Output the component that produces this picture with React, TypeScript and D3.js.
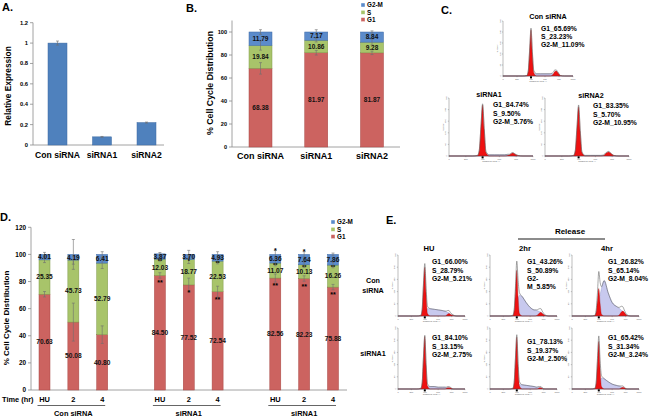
import * as d3 from "d3";

const FONT = "'Liberation Sans', Arial, Helvetica, sans-serif";

// ---------- A: relative expression ----------
const A_CATS = ["Con siRNA", "siRNA1", "siRNA2"];
const A_VALUES = [1.0, 0.08, 0.22];
const A_ERRORS = [0.02, 0.004, 0.005];
const A_TICKS = [0, 0.2, 0.4, 0.6, 0.8, 1, 1.2];

// ---------- B: cell cycle distribution ----------
const LEGEND = ["G2-M", "S", "G1"];
const B_CATS = ["Con siRNA", "siRNA1", "siRNA2"];
const B_G1 = [68.38, 81.97, 81.87];
const B_S = [19.84, 10.86, 9.28];
const B_G2M = [11.79, 7.17, 8.84];
const B_ERR_G1 = [5, 2, 1.5];
const B_ERR_S = [4, 1.5, 2.5];
const B_ERR_TOP = [2, 2, 1];
const B_TICKS = [0, 20, 40, 60, 80, 100];

// ---------- D: HU release time course ----------
const D_TIMES = ["HU", "2", "4", "HU", "2", "4", "HU", "2", "4"];
const D_GROUPS = ["Con siRNA", "siRNA1", "siRNA1"];
const D_G1 = [70.63, 50.08, 40.8, 84.5, 77.52, 72.54, 82.56, 82.23, 75.88];
const D_S = [25.35, 45.73, 52.79, 12.03, 18.77, 22.53, 11.07, 10.13, 16.26];
const D_G2M = [4.01, 4.19, 6.41, 3.87, 3.7, 4.93, 6.36, 7.64, 7.86];
const D_ERR_G1 = [2, 14, 6.5, 2, 5, 4, 3, 2, 2];
const D_ERR_S = [2, 3, 4, 1.5, 3, 2, 2, 2, 2];
const D_ERR_TOP = [1.5, 11, 2, 1, 3, 2, 3, 2, 1];
const D_SIG_G1 = ["", "", "", "**", "*", "**", "**", "**", "**"];
const D_SIG_S = ["", "", "", "**", "*", "**", "**", "**", "**"];
const D_SIG_TOP = ["", "", "", "", "", "", "*", "*", ""];
const D_TICKS = [0, 20, 40, 60, 80, 100, 120];

// ---------- flow histograms (C and E) ----------
const CHANNELS = [0, 40, 70, 85, 90, 95, 100, 105, 110, 120, 135, 150, 165, 175, 180, 185, 190, 195, 205, 220, 250];

const C_CON_RED = [0, 0, 0, 1, 8, 45, 84, 40, 6, 0, 0, 0, 0, 1, 4, 8, 9, 7, 1, 0, 0];
const C_CON_S = [0, 0, 0, 0, 1, 2, 3, 4, 4, 4, 4, 4, 4, 4, 3, 3, 2, 1, 0, 0, 0];
const C_SI1_RED = [0, 0, 0, 1, 9, 50, 88, 45, 6, 0, 0, 0, 0, 1, 2, 4, 5, 4, 1, 0, 0];
const C_SI1_S = [0, 0, 0, 0, 1, 1, 2, 2, 2, 2, 2, 2, 2, 2, 1, 1, 1, 0, 0, 0, 0];
const C_SI2_RED = [0, 0, 0, 1, 9, 48, 85, 42, 6, 0, 0, 0, 0, 1, 4, 6, 7, 5, 1, 0, 0];
const C_SI2_S = [0, 0, 0, 0, 0, 1, 3, 2, 1, 1, 1, 1, 1, 1, 1, 1, 1, 0, 0, 0, 0];

const E_HU_CON_RED = [0, 0, 0, 1, 10, 50, 80, 35, 4, 0, 0, 0, 0, 0, 1, 3, 4, 3, 1, 0, 0];
const E_HU_CON_S = [0, 0, 0, 0, 1, 3, 6, 10, 12, 12, 11, 10, 9, 8, 7, 6, 5, 3, 1, 0, 0];
const E_HU_SI_RED = [0, 0, 0, 1, 10, 52, 86, 38, 5, 0, 0, 0, 0, 0, 1, 2, 2, 2, 0, 0, 0];
const E_HU_SI_S = [0, 0, 0, 0, 0, 1, 2, 3, 4, 4, 4, 3, 3, 3, 2, 2, 2, 1, 0, 0, 0];
const E_2H_CON_RED = [0, 0, 0, 1, 8, 40, 75, 30, 4, 0, 0, 0, 0, 1, 3, 5, 6, 4, 1, 0, 0];
const E_2H_CON_S = [0, 0, 0, 0, 2, 8, 15, 28, 34, 32, 22, 14, 10, 9, 8, 7, 6, 4, 1, 0, 0];
const E_4H_CON_RED = [0, 0, 0, 1, 6, 26, 45, 20, 3, 0, 0, 0, 0, 1, 4, 7, 8, 6, 1, 0, 0];
const E_4H_CON_S = [0, 0, 0, 0, 3, 12, 28, 35, 45, 58, 38, 22, 16, 13, 11, 9, 7, 4, 1, 0, 0];
const E_2H_SI_RED = [0, 0, 0, 1, 10, 50, 85, 36, 5, 0, 0, 0, 0, 0, 1, 2, 2, 1, 0, 0, 0];
const E_2H_SI_S = [0, 0, 0, 0, 1, 2, 4, 6, 7, 7, 6, 5, 4, 3, 3, 2, 2, 1, 0, 0, 0];
const E_4H_SI_RED = [0, 0, 0, 1, 9, 45, 78, 32, 4, 0, 0, 0, 0, 0, 1, 2, 3, 2, 0, 0, 0];
const E_4H_SI_S = [0, 0, 0, 0, 2, 5, 9, 14, 18, 17, 12, 8, 6, 5, 4, 3, 2, 1, 0, 0, 0];

const C_TITLES = ["Con siRNA", "siRNA1", "siRNA2"];
const C_TEXTS = [
  ["G1_65.69%", "S_23.23%", "G2-M_11.09%"],
  ["G1_84.74%", "S_9.50%", "G2-M_5.76%"],
  ["G1_83.35%", "S_5.70%", "G2-M_10.95%"],
];
const E_COLS = ["HU", "2hr", "4hr"];
const E_TEXTS = [
  ["G1_66.00%", "S_28.79%", "G2-M_5.21%"],
  ["G1_43.26%", "S_50.89%", "G2-", "M_5.85%"],
  ["G1_26.82%", "S_65.14%", "G2-M_8.04%"],
  ["G1_84.10%", "S_13.15%", "G2-M_2.75%"],
  ["G1_78.13%", "S_19.37%", "G2-M_2.50%"],
  ["G1_65.42%", "S_31.34%", "G2-M_3.24%"],
];

const COL = {
  G1: "#cc6360",
  G1s: "#a84744",
  S: "#a8c46a",
  Ss: "#7f9a48",
  G2: "#5b8bcb",
  G2s: "#3f6aa5",
  axis: "#8c8c8c",
  err: "#6e6e6e",
};
const LEGEND_COL = [COL.G2, COL.S, COL.G1];

type Scale = d3.ScaleLinear<number, number>;

function YAxis({ x, y, ticks, fs }: { x: number; y: Scale; ticks: number[]; fs: number }) {
  const [lo, hi] = y.domain();
  return (
    <g>
      <line x1={x} x2={x} y1={y(lo)} y2={y(hi)} stroke={COL.axis} strokeWidth={0.8} />
      {ticks.map((t) => (
        <g key={t}>
          <line x1={x - 3} x2={x} y1={y(t)} y2={y(t)} stroke={COL.axis} strokeWidth={0.8} />
          <text x={x - 5} y={y(t)} dy="0.35em" textAnchor="end" fontSize={fs} fontWeight="bold">
            {String(t)}
          </text>
        </g>
      ))}
    </g>
  );
}

function ErrBar({ cx, y, v, e, cap }: { cx: number; y: Scale; v: number; e: number; cap: number }) {
  return (
    <g stroke={COL.err} strokeWidth={0.6}>
      <line x1={cx} x2={cx} y1={y(v - e)} y2={y(v + e)} />
      <line x1={cx - cap / 2} x2={cx + cap / 2} y1={y(v - e)} y2={y(v - e)} />
      <line x1={cx - cap / 2} x2={cx + cap / 2} y1={y(v + e)} y2={y(v + e)} />
    </g>
  );
}

function StackBar({
  cx, bw, y, g1, s, g2, eG1, eS, eTop, fs, cap,
}: {
  cx: number; bw: number; y: Scale; g1: number; s: number; g2: number;
  eG1: number; eS: number; eTop: number; fs: number; cap: number;
}) {
  const segs = [
    { lo: 0, hi: g1, fill: COL.G1, stroke: COL.G1s, label: g1 },
    { lo: g1, hi: g1 + s, fill: COL.S, stroke: COL.Ss, label: s },
    { lo: g1 + s, hi: g1 + s + g2, fill: COL.G2, stroke: COL.G2s, label: g2 },
  ];
  return (
    <g>
      {segs.map((sg, i) => (
        <rect key={i} x={cx - bw / 2} width={bw} y={y(sg.hi)} height={y(sg.lo) - y(sg.hi)}
          fill={sg.fill} stroke={sg.stroke} strokeWidth={0.5} />
      ))}
      <ErrBar cx={cx} y={y} v={g1} e={eG1} cap={cap} />
      <ErrBar cx={cx} y={y} v={g1 + s} e={eS} cap={cap} />
      <ErrBar cx={cx} y={y} v={g1 + s + g2} e={eTop} cap={cap} />
      {segs.map((sg, i) => (
        <text key={i} x={cx} y={y((sg.lo + sg.hi) / 2)} dy="0.35em" textAnchor="middle"
          fontSize={fs} fontWeight="bold" fill="#111">
          {sg.label.toFixed(2)}
        </text>
      ))}
    </g>
  );
}

function Legend({ x, y, fs }: { x: number; y: number; fs: number }) {
  return (
    <g>
      {LEGEND.map((l, i) => (
        <g key={l}>
          <rect x={x} y={y + i * 7.3 - 2} width={4} height={4} fill={LEGEND_COL[i]} stroke="#fff" strokeWidth={0.4} />
          <text x={x + 6} y={y + i * 7.3} dy="0.35em" fontSize={fs} fontWeight="bold">{l}</text>
        </g>
      ))}
    </g>
  );
}

function Histogram({ x0, y0, w, h, red, sph }: { x0: number; y0: number; w: number; h: number; red: number[]; sph: number[] }) {
  const x = d3.scaleLinear().domain([0, 250]).range([x0, x0 + w]);
  const y = d3.scaleLinear().domain([0, 100]).range([y0 + h, y0]);
  const pts = CHANNELS.map((c, i) => ({ c, r: red[i], s: sph[i] }));
  const area = (acc: (d: any) => number) =>
    d3.area<any>().x((d) => x(d.c)).y0(y(0)).y1((d) => y(acc(d))).curve(d3.curveMonotoneX)(pts)!;
  const total = d3.line<any>().x((d) => x(d.c)).y((d) => y(d.r + d.s)).curve(d3.curveMonotoneX)(pts)!;
  const xt = [0, 50, 100, 150, 200, 250];
  const yt = [0, 20, 40, 60, 80, 100];
  return (
    <g>
      <path d={area((d) => d.s)} fill="#c8c9ee" stroke="#8c90c6" strokeWidth={0.4} />
      <path d={area((d) => d.r)} fill="#ee1111" stroke="#8a0000" strokeWidth={0.3} />
      <path d={total} fill="none" stroke="#6a6a6a" strokeWidth={0.6} />
      <line x1={x0} x2={x0} y1={y0} y2={y0 + h} stroke="#555" strokeWidth={0.4} />
      <line x1={x0} x2={x0 + w} y1={y0 + h} y2={y0 + h} stroke="#555" strokeWidth={0.4} />
      {yt.map((t) => (
        <g key={t}>
          <line x1={x0 - 1.2} x2={x0} y1={y(t)} y2={y(t)} stroke="#555" strokeWidth={0.3} />
          <text x={x0 - 2.5} y={y(t)} fontSize={2.2} fill="#555" textAnchor="middle"
            transform={`rotate(-90 ${x0 - 2.5} ${y(t)})`}>{t * 3}</text>
        </g>
      ))}
      {xt.map((t) => (
        <g key={t}>
          <line x1={x(t)} x2={x(t)} y1={y0 + h} y2={y0 + h + 1.2} stroke="#555" strokeWidth={0.3} />
          <text x={x(t)} y={y0 + h + 3.6} fontSize={2.2} fill="#555" textAnchor="middle">{t * 4}</text>
        </g>
      ))}
      <text x={x0 - 5.5} y={y0 + h / 2} fontSize={2.2} fill="#555" textAnchor="middle"
        transform={`rotate(-90 ${x0 - 5.5} ${y0 + h / 2})`}>Number</text>
      <text x={x0 + w / 2} y={y0 + h + 6.2} fontSize={2.2} fill="#555" textAnchor="middle">Channels (FL2-A)</text>
      <rect x={x(100) - 1} y={y0 + h + 0.4} width={2} height={2} fill="#000" />
    </g>
  );
}

function HistText({ x, y, lines, fs }: { x: number; y: number; lines: string[]; fs: number }) {
  return (
    <g>
      {lines.map((l, i) => (
        <text key={i} x={x} y={y + i * 8.3} dy="0.35em" fontSize={fs} fontWeight="bold">{l}</text>
      ))}
    </g>
  );
}

function PanelA() {
  const y = d3.scaleLinear().domain([0, 1.2]).range([145, 22.7]);
  const x = d3.scalePoint<string>().domain(A_CATS).range([57.5, 146.5]);
  const bw = 19;
  return (
    <g>
      <text x={2} y={10.5} fontSize={11} fontWeight="bold">A.</text>
      <YAxis x={33} y={y} ticks={A_TICKS} fs={5.8} />
      <line x1={33} x2={164} y1={y(0)} y2={y(0)} stroke={COL.axis} strokeWidth={0.8} />
      {A_CATS.map((c, i) => (
        <g key={c}>
          <rect x={x(c)! - bw / 2} width={bw} y={y(A_VALUES[i])} height={y(0) - y(A_VALUES[i])}
            fill="#4f81bd" stroke="#3c6aa2" strokeWidth={0.5} />
          <ErrBar cx={x(c)!} y={y} v={A_VALUES[i]} e={A_ERRORS[i]} cap={3} />
          <text x={x(c)!} y={158} textAnchor="middle" fontSize={8.6} fontWeight="bold">{c}</text>
        </g>
      ))}
      <text transform="translate(11,86) rotate(-90)" textAnchor="middle" fontSize={8.4} fontWeight="bold">
        Relative Expression
      </text>
    </g>
  );
}

function PanelB() {
  const y = d3.scaleLinear().domain([0, 110]).range([147, 20.5]);
  const x = d3.scalePoint<string>().domain(B_CATS).range([260.5, 372]);
  return (
    <g>
      <text x={186} y={11.5} fontSize={11} fontWeight="bold">B.</text>
      <YAxis x={232} y={y} ticks={B_TICKS} fs={5.6} />
      <line x1={232} x2={400} y1={y(0)} y2={y(0)} stroke={COL.axis} strokeWidth={0.8} />
      {B_CATS.map((c, i) => (
        <g key={c}>
          <StackBar cx={x(c)!} bw={23} y={y} g1={B_G1[i]} s={B_S[i]} g2={B_G2M[i]}
            eG1={B_ERR_G1[i]} eS={B_ERR_S[i]} eTop={B_ERR_TOP[i]} fs={6.5} cap={3} />
          <text x={x(c)!} y={159} textAnchor="middle" fontSize={9} fontWeight="bold">{c}</text>
        </g>
      ))}
      <text transform="translate(213,83) rotate(-90)" textAnchor="middle" fontSize={8.8} fontWeight="bold">
        % Cell Cycle Distribution
      </text>
      <Legend x={361} y={5} fs={6.3} />
    </g>
  );
}

function PanelC() {
  const boxes = [
    { x: 503, y: 21, w: 70, h: 55, tx: 541, ty: 28.5, hx: 548, hy: 16 },
    { x: 449, y: 98, w: 84, h: 58, tx: 493, ty: 105, hx: 489, hy: 94 },
    { x: 545, y: 98, w: 84, h: 58, tx: 593, ty: 106, hx: 591, hy: 95 },
  ];
  const reds = [C_CON_RED, C_SI1_RED, C_SI2_RED];
  const sphs = [C_CON_S, C_SI1_S, C_SI2_S];
  return (
    <g>
      <text x={441} y={14} fontSize={11} fontWeight="bold">C.</text>
      {boxes.map((b, i) => (
        <g key={i}>
          <Histogram x0={b.x} y0={b.y} w={b.w} h={b.h} red={reds[i]} sph={sphs[i]} />
          <text x={b.hx} y={b.hy} dy="0.35em" textAnchor="middle" fontSize={7.2} fontWeight="bold">{C_TITLES[i]}</text>
          <HistText x={b.tx} y={b.ty} lines={C_TEXTS[i]} fs={6.8} />
        </g>
      ))}
    </g>
  );
}

function PanelD() {
  const y = d3.scaleLinear().domain([0, 120]).range([390, 227.3]);
  const slots = d3.range(11);
  const x = d3.scalePoint<number>().domain(slots).range([44.5, 333]);
  const cxOf = (i: number) => x(i + Math.floor(i / 3))!;
  const bw = 11;
  return (
    <g>
      <text x={0} y={221} fontSize={11} fontWeight="bold">D.</text>
      <YAxis x={31} y={y} ticks={D_TICKS} fs={6.4} />
      <line x1={31} x2={347} y1={y(0)} y2={y(0)} stroke={COL.axis} strokeWidth={0.8} />
      {D_G1.map((g1, i) => {
        const cx = cxOf(i);
        const sTop = g1 + D_S[i];
        return (
          <g key={i}>
            <StackBar cx={cx} bw={bw} y={y} g1={g1} s={D_S[i]} g2={D_G2M[i]}
              eG1={D_ERR_G1[i]} eS={D_ERR_S[i]} eTop={D_ERR_TOP[i]} fs={6.6} cap={3} />
            <text x={cx} y={y(g1) + 10} textAnchor="middle" fontSize={7} fontWeight="bold">{D_SIG_G1[i]}</text>
            <text x={cx} y={y(sTop) + 4} textAnchor="middle" fontSize={5.6} fontWeight="bold">{D_SIG_S[i]}</text>
            <text x={cx} y={y(sTop + D_G2M[i] + D_ERR_TOP[i]) + 2.5} textAnchor="middle" fontSize={7} fontWeight="bold">{D_SIG_TOP[i]}</text>
            <text x={cx} y={402} textAnchor="middle" fontSize={7.4} fontWeight="bold">{D_TIMES[i]}</text>
          </g>
        );
      })}
      <text x={2} y={402} fontSize={7.4} fontWeight="bold">Time (hr)</text>
      {D_GROUPS.map((g, k) => {
        const a = cxOf(k * 3);
        const b = cxOf(k * 3 + 2);
        return (
          <g key={k}>
            <line x1={a - 7} x2={b + 3} y1={405.5} y2={405.5} stroke="#555" strokeWidth={0.9} />
            <text x={(a + b) / 2} y={416} textAnchor="middle" fontSize={7.4} fontWeight="bold">{g}</text>
          </g>
        );
      })}
      <text transform="translate(9,318) rotate(-90)" textAnchor="middle" fontSize={8} fontWeight="bold">
        % Cell Cycle Distribution
      </text>
      <Legend x={331} y={222} fs={6.3} />
    </g>
  );
}

function PanelE() {
  const colX = [398, 490, 572];
  const colTx = [432, 527, 608];
  const rowY = [255, 328];
  const rowTy = [262, 338];
  const reds = [E_HU_CON_RED, E_2H_CON_RED, E_4H_CON_RED, E_HU_SI_RED, E_2H_SI_RED, E_4H_SI_RED];
  const sphs = [E_HU_CON_S, E_2H_CON_S, E_4H_CON_S, E_HU_SI_S, E_2H_SI_S, E_4H_SI_S];
  const titleX = [429, 525, 607];
  return (
    <g>
      <text x={386} y={224} fontSize={11} fontWeight="bold">E.</text>
      <text x={570} y={231} dy="0.35em" textAnchor="middle" fontSize={8} fontWeight="bold">Release</text>
      <line x1={518} x2={605} y1={239} y2={239} stroke="#666" strokeWidth={1.4} />
      {E_COLS.map((c, j) => (
        <text key={c} x={titleX[j]} y={248.5} dy="0.35em" textAnchor="middle" fontSize={7.6} fontWeight="bold">{c}</text>
      ))}
      <text x={373} y={280} dy="0.35em" textAnchor="middle" fontSize={7.2} fontWeight="bold">Con</text>
      <text x={373} y={290} dy="0.35em" textAnchor="middle" fontSize={7.2} fontWeight="bold">siRNA</text>
      <text x={373} y={353} dy="0.35em" textAnchor="middle" fontSize={7.2} fontWeight="bold">siRNA1</text>
      {E_TEXTS.map((lines, k) => {
        const r = Math.floor(k / 3);
        const c = k % 3;
        return (
          <g key={k}>
            <Histogram x0={colX[c]} y0={rowY[r]} w={67} h={61} red={reds[k]} sph={sphs[k]} />
            <HistText x={colTx[c]} y={rowTy[r] + (r === 1 && c === 1 ? 4 : 0)} lines={lines} fs={6.8} />
          </g>
        );
      })}
    </g>
  );
}

export default function App() {
  return (
    <svg width={650} height={417} style={{ position: "absolute", left: 0, top: 0, background: "#fff" }}
      fontFamily={FONT}>
      <rect width={650} height={417} fill="#fff" />
      <PanelA />
      <PanelB />
      <PanelC />
      <PanelD />
      <PanelE />
    </svg>
  );
}
